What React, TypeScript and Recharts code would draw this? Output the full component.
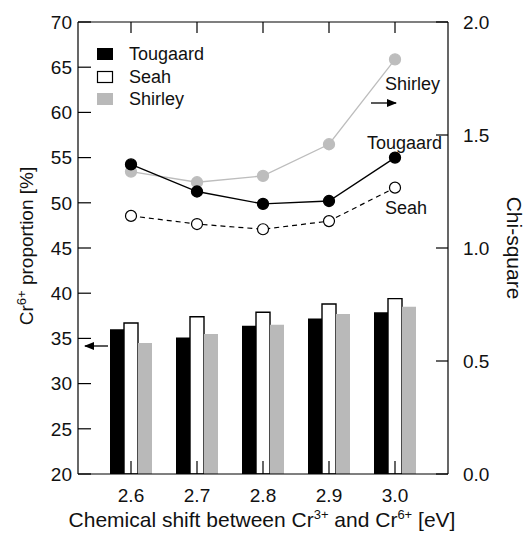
import React from "react";
import { ComposedChart, Bar, Line, XAxis, YAxis } from "recharts";

// chemical shift between Cr3+ and Cr6+ [eV]
const shifts = ["2.6", "2.7", "2.8", "2.9", "3.0"];

// Cr6+ proportion [%] (bars, left axis)
const tougaardPct = [36.0, 35.1, 36.4, 37.2, 37.9];
const seahPct = [36.7, 37.4, 37.9, 38.8, 39.4];
const shirleyPct = [34.5, 35.5, 36.5, 37.7, 38.5];

// Chi-square (lines, right axis)
const tougaardChi = [1.37, 1.25, 1.195, 1.208, 1.40];
const seahChi = [1.142, 1.106, 1.083, 1.119, 1.267];
const shirleyChi = [1.338, 1.291, 1.319, 1.459, 1.835];

const leftTicks = [20, 25, 30, 35, 40, 45, 50, 55, 60, 65, 70];
const rightTicks = [0, 0.5, 1.0, 1.5, 2.0];

const data = shifts.map((s, i) => ({
  shift: s,
  tPct: tougaardPct[i],
  sPct: seahPct[i],
  shPct: shirleyPct[i],
  tChi: tougaardChi[i],
  sChi: seahChi[i],
  shChi: shirleyChi[i],
}));

const W = 525;
const H = 539;
const FONT = "Liberation Sans, Arial, Helvetica, sans-serif";
const GRAY_BAR = "#b9b9b9";
const GRAY_LINE = "#bdbdbd";
const TICK_FS = 19;

function BottomTick({ x, y, payload }: any) {
  return (
    <g>
      <line x1={x} x2={x} y1={y} y2={y - 13} stroke="#000" strokeWidth={1.2} />
      <text x={x} y={y + 28} textAnchor="middle" fontSize={TICK_FS} fontFamily={FONT} fill="#111">
        {payload.value}
      </text>
    </g>
  );
}

function TopTick({ x, y }: any) {
  return <line x1={x} x2={x} y1={y} y2={y + 11} stroke="#000" strokeWidth={1.2} />;
}

function LeftTick({ x, y, payload }: any) {
  return (
    <g>
      <line x1={x} x2={x + 13} y1={y} y2={y} stroke="#000" strokeWidth={1.2} />
      <text x={x - 6} y={y} dy="0.36em" textAnchor="end" fontSize={TICK_FS} fontFamily={FONT} fill="#111">
        {payload.value}
      </text>
    </g>
  );
}

function RightTick({ x, y, payload }: any) {
  return (
    <g>
      <line x1={x} x2={x - 12} y1={y} y2={y} stroke="#000" strokeWidth={1.2} />
      <text x={x + 15} y={y} dy="0.36em" textAnchor="start" fontSize={TICK_FS} fontFamily={FONT} fill="#111">
        {Number(payload.value).toFixed(1)}
      </text>
    </g>
  );
}

function OpenDot({ cx, cy }: any) {
  return <circle cx={cx} cy={cy} r={5.5} fill="#fff" stroke="#000" strokeWidth={1.2} />;
}

function Overlay() {
  const sup = { fontSize: 13 };
  return (
    <svg width={W} height={H} style={{ position: "absolute", left: 0, top: 0, pointerEvents: "none" }}>
      <defs>
        <marker id="ah" markerWidth="10" markerHeight="8" refX="9" refY="4" orient="auto" markerUnits="userSpaceOnUse">
          <path d="M0,0 L10,4 L0,8 Z" fill="#000" />
        </marker>
      </defs>
      <g fontFamily={FONT} fontSize={18} fill="#111">
        {/* legend */}
        <rect x={97} y={48} width={16} height={12} fill="#000" />
        <rect x={97.5} y={71.5} width={15} height={11} fill="#fff" stroke="#000" strokeWidth={1.2} />
        <rect x={97} y={93} width={16} height={12} fill={GRAY_BAR} />
        <text x={129} y={60}>Tougaard</text>
        <text x={129} y={83}>Seah</text>
        <text x={129} y={105}>Shirley</text>

        {/* annotations */}
        <text x={385} y={90}>Shirley</text>
        <line x1={371} x2={396} y1={103} y2={103} stroke="#000" strokeWidth={1.3} markerEnd="url(#ah)" />
        <text x={367} y={149}>Tougaard</text>
        <text x={385} y={214}>Seah</text>
        <line x1={108} x2={85} y1={346} y2={346} stroke="#000" strokeWidth={1.3} markerEnd="url(#ah)" />

        {/* axis titles */}
        <text x={262} y={527} textAnchor="middle" fontSize={21}>
          Chemical shift between Cr
          <tspan dy={-8} style={sup}>3+</tspan>
          <tspan dy={8}> and Cr</tspan>
          <tspan dy={-8} style={sup}>6+</tspan>
          <tspan dy={8}> [eV]</tspan>
        </text>
        <text transform="translate(33,246) rotate(-90)" textAnchor="middle" fontSize={19}>
          Cr
          <tspan dy={-7} style={sup}>6+</tspan>
          <tspan dy={7}> proportion [%]</tspan>
        </text>
        <text transform="translate(507,248) rotate(90)" textAnchor="middle" fontSize={21}>
          Chi-square
        </text>
      </g>
    </svg>
  );
}

export default function App() {
  return (
    <div style={{ position: "absolute", left: 0, top: 0, width: W, height: H, background: "#fff" }}>
      <ComposedChart width={W} height={H} data={data} margin={{ top: 0, right: 0, bottom: 0, left: 0 }} barGap={0}>
        <XAxis
          xAxisId="bottom"
          dataKey="shift"
          orientation="bottom"
          height={65}
          padding={{ left: 20, right: 20 }}
          tickSize={0}
          tickMargin={0}
          tickLine={false}
          tick={<BottomTick />}
          axisLine={{ stroke: "#000", strokeWidth: 1.2 }}
          interval={0}
        />
        <XAxis
          xAxisId="top"
          dataKey="shift"
          orientation="top"
          height={22}
          padding={{ left: 20, right: 20 }}
          tickSize={0}
          tickMargin={0}
          tickLine={false}
          tick={<TopTick />}
          axisLine={{ stroke: "#000", strokeWidth: 1.2 }}
          interval={0}
        />
        <YAxis
          yAxisId="left"
          orientation="left"
          width={78}
          domain={[20, 70]}
          ticks={leftTicks}
          allowDataOverflow
          tickSize={0}
          tickMargin={0}
          tickLine={false}
          tick={<LeftTick />}
          axisLine={{ stroke: "#000", strokeWidth: 1.2 }}
          interval={0}
        />
        <YAxis
          yAxisId="right"
          orientation="right"
          width={77}
          domain={[0, 2]}
          ticks={rightTicks}
          allowDataOverflow
          tickSize={0}
          tickMargin={0}
          tickLine={false}
          tick={<RightTick />}
          axisLine={{ stroke: "#000", strokeWidth: 1.2 }}
          interval={0}
        />
        <Bar xAxisId="bottom" yAxisId="left" dataKey="tPct" barSize={14} fill="#000" isAnimationActive={false} />
        <Bar xAxisId="bottom" yAxisId="left" dataKey="sPct" barSize={14} fill="#fff" stroke="#000" strokeWidth={1.4} isAnimationActive={false} />
        <Bar xAxisId="bottom" yAxisId="left" dataKey="shPct" barSize={14} fill={GRAY_BAR} isAnimationActive={false} />
        <Line
          xAxisId="bottom"
          yAxisId="right"
          dataKey="shChi"
          stroke={GRAY_LINE}
          strokeWidth={1.3}
          dot={{ r: 5.5, fill: GRAY_LINE, stroke: GRAY_LINE }}
          isAnimationActive={false}
        />
        <Line
          xAxisId="bottom"
          yAxisId="right"
          dataKey="sChi"
          stroke="#000"
          strokeWidth={1.2}
          strokeDasharray="5 4"
          dot={<OpenDot />}
          isAnimationActive={false}
        />
        <Line
          xAxisId="bottom"
          yAxisId="right"
          dataKey="tChi"
          stroke="#000"
          strokeWidth={1.3}
          dot={{ r: 5.5, fill: "#000", stroke: "#000" }}
          isAnimationActive={false}
        />
      </ComposedChart>
      <Overlay />
    </div>
  );
}
